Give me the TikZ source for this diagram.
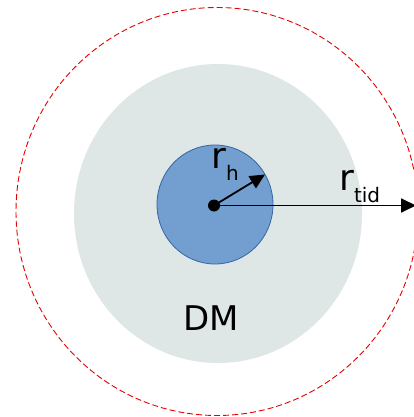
\documentclass[tikz,border=0pt]{standalone}
\usepackage{fontspec}
\setmainfont{DejaVu Sans}
\usetikzlibrary{arrows.meta,positioning}
\definecolor{halogray}{RGB}{223,230,230}
\definecolor{bulgeblue}{RGB}{114,159,207}
\definecolor{bulgeedge}{RGB}{52,101,164}
\newcommand{\radlabel}[1]{{\fontsize{36}{36}\selectfont r}\raisebox{-12pt}{\fontsize{20}{20}\selectfont #1}}
\tikzset{
  tidalcircle/.style={draw=red!90!black,dash pattern=on 6pt off 3pt,line width=0.9pt},
  halodisc/.style={fill=halogray},
  bulgedisc/.style={fill=bulgeblue,draw=bulgeedge,line width=0.8pt},
  centerdot/.style={circle,fill=black,inner sep=0pt,minimum size=12pt},
  radiusarrow/.style={-{Triangle[length=15pt,width=14pt]},line width=1.8pt},
  radiuslabel/.style={anchor=base west,inner sep=0pt}
}
\begin{document}
\begin{tikzpicture}[x=1pt,y=-1pt]
  \useasboundingbox (0,0) rectangle (414,417);
  % shells
  \draw[tidalcircle] (217,211.5) ellipse [x radius=201,y radius=204];
  \fill[halodisc] (218,213.5) ellipse [x radius=144,y radius=149.5];
  \draw[bulgedisc] (215,204.5) ellipse [x radius=58,y radius=59.5];
  % radii
  \node[centerdot] (core) at (214,205.5) {};
  \coordinate (hend) at (265,174.5);
  \coordinate (tidend) at (416,205.5);
  \draw[radiusarrow] (core.center) -- (hend);
  \draw[radiusarrow] (core.center) -- (tidend);
  \node[radiuslabel] (rh) at (211,168.5) {\radlabel{h}};
  \node[radiuslabel] (rtid) at (339,190) {\radlabel{tid}};
  \node[anchor=base,inner sep=0pt,font=\fontsize{34}{34}\selectfont] (dm) at (211,330) {DM};
\end{tikzpicture}
\end{document}
